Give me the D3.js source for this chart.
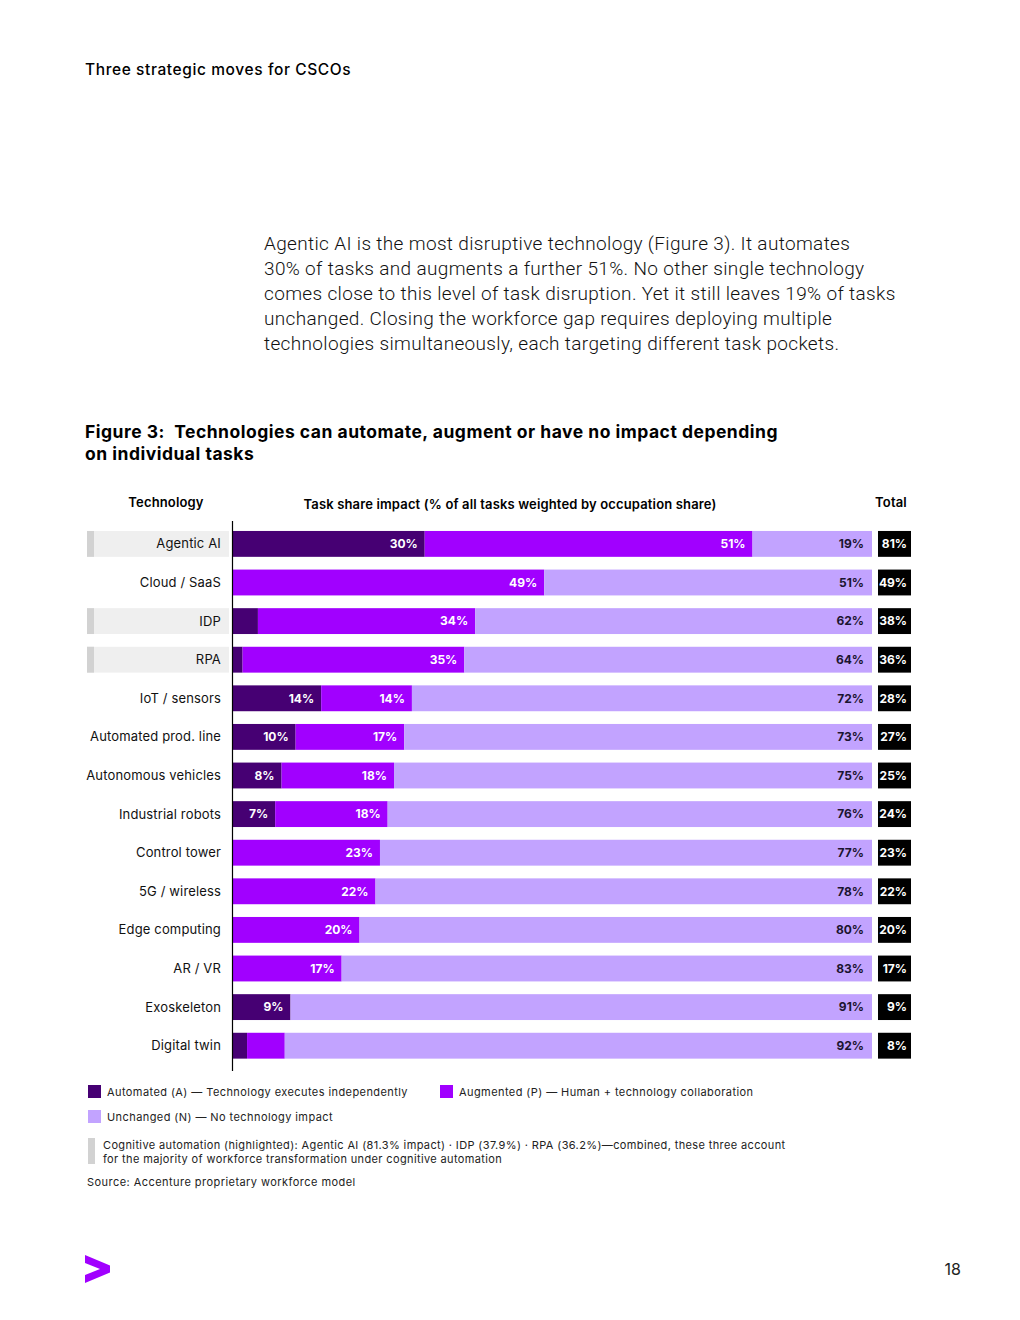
<!DOCTYPE html>
<html><head><meta charset="utf-8">
<script src="https://cdn.jsdelivr.net/npm/d3@7/dist/d3.min.js"></script>
<style>
html,body{margin:0;padding:0;background:#fff;}
svg{display:block;}
text{white-space:pre;}
</style></head>
<body>
<svg id="c" width="1020" height="1320"></svg>
<script>
const technologies = ["Agentic AI","Cloud / SaaS","IDP","RPA","IoT / sensors","Automated prod. line","Autonomous vehicles","Industrial robots","Control tower","5G / wireless","Edge computing","AR / VR","Exoskeleton","Digital twin"];
const automated = [30.0, 0, 3.9, 1.5, 13.8, 9.8, 7.6, 6.6, 0, 0, 0, 0, 9.0, 2.2];
const augmented = [51.3, 48.7, 34.0, 34.7, 14.2, 17.0, 17.6, 17.6, 23.0, 22.3, 19.8, 17.0, 0, 5.9];
const unchanged = [18.7, 51.3, 62.1, 63.8, 72.0, 73.2, 74.8, 75.8, 77.0, 77.7, 80.2, 83.0, 91.0, 91.9];
const highlighted = ["Agentic AI","IDP","RPA"];
const seriesNames = ["Automated (A) — Technology executes independently","Augmented (P) — Human + technology collaboration","Unchanged (N) — No technology impact"];

const COL = {A:"#460073", P:"#a100ff", N:"#c2a3ff"};
const FONT = "Inter, 'Noto Sans', sans-serif";
const svg = d3.select("#c");

// Page header
svg.append("text").attr("x",85).attr("y",75).attr("font-family",FONT).attr("font-size",15.5).attr("font-weight",500).attr("letter-spacing",0.6).attr("fill","#000").text("Three strategic moves for CSCOs");

// Paragraph
const para = ["Agentic AI is the most disruptive technology (Figure 3). It automates","30% of tasks and augments a further 51%. No other single technology","comes close to this level of task disruption. Yet it still leaves 19% of tasks","unchanged. Closing the workforce gap requires deploying multiple","technologies simultaneously, each targeting different task pockets."];
svg.append("g").selectAll("text").data(para).join("text")
  .attr("x",264).attr("y",(d,i)=>250+i*25).attr("font-family","Roboto, sans-serif").attr("font-size",19).attr("font-weight",300).attr("letter-spacing",0.34).attr("fill","#111").text(d=>d);

// Figure title
const titleLines = ["Figure 3:  Technologies can automate, augment or have no impact depending","on individual tasks"];
svg.append("g").selectAll("text").data(titleLines).join("text")
  .attr("x",85).attr("y",(d,i)=>438+i*22).attr("font-family",FONT).attr("font-size",17.5).attr("font-weight",700).attr("letter-spacing",0.5).attr("fill","#000").text(d=>d);

// Column headers
const hdr = (x,y,t)=>svg.append("text").attr("x",x).attr("y",y).attr("text-anchor","middle").attr("font-family",FONT).attr("font-size",13).attr("font-weight",600).attr("letter-spacing",0.15).text(t);
hdr(166,507,"Technology");
hdr(510,509,"Task share impact (% of all tasks weighted by occupation share)");
hdr(891,507,"Total");

// Scales
const x = d3.scaleLinear().domain([0,100]).range([233,872]);
const y = d3.scaleBand().domain(technologies).range([524.6,1065]).paddingInner(0.33).paddingOuter(0.165);
const bh = y.bandwidth();

const rows = technologies.map((t,i)=>({t, A:automated[i], P:augmented[i], N:unchanged[i]}));

// highlighted row backgrounds
const hl = svg.append("g");
rows.filter(r=>highlighted.includes(r.t)).forEach(r=>{
  hl.append("rect").attr("x",87).attr("y",y(r.t)).attr("width",142).attr("height",bh).attr("fill","#efefef");
  hl.append("rect").attr("x",87).attr("y",y(r.t)).attr("width",7).attr("height",bh).attr("fill","#d2d2d2");
});

// category labels
svg.append("g").selectAll("text").data(rows).join("text")
  .attr("x",221).attr("y",r=>y(r.t)+bh/2+4.5).attr("text-anchor","end")
  .attr("font-family",FONT).attr("font-size",13).attr("letter-spacing",0.15).attr("fill","#111").text(r=>r.t);

// stacked bars
const stack = d3.stack().keys(["A","P","N"])(rows);
const bars = svg.append("g");
stack.forEach(layer=>{
  bars.append("g").selectAll("rect").data(layer).join("rect")
    .attr("x",d=>x(d[0])).attr("y",d=>y(d.data.t))
    .attr("width",d=>Math.max(0,x(d[1])-x(d[0]))).attr("height",bh)
    .attr("fill",COL[layer.key]);
  bars.append("g").selectAll("text").data(layer.filter(d=>(d[1]-d[0])>=6.5)).join("text")
    .attr("x",d=>x(d[1])-(layer.key==="N"?8:7)).attr("y",d=>y(d.data.t)+bh/2+4.3)
    .attr("text-anchor","end").attr("font-family",FONT).attr("font-size",12).attr("font-weight",700)
    .attr("fill",layer.key==="N"?"#1b1430":"#fff")
    .text(d=>Math.round(d[1]-d[0])+"%");
});

// axis line
svg.append("line").attr("x1",232.5).attr("x2",232.5).attr("y1",521).attr("y2",1071).attr("stroke","#000").attr("stroke-width",1.2);

// totals
const tot = svg.append("g");
tot.selectAll("rect").data(rows).join("rect")
  .attr("x",878).attr("y",r=>y(r.t)).attr("width",33).attr("height",bh).attr("fill","#000");
tot.selectAll("text").data(rows).join("text")
  .attr("x",907).attr("y",r=>y(r.t)+bh/2+4.3).attr("text-anchor","end")
  .attr("font-family",FONT).attr("font-size",12).attr("font-weight",700).attr("fill","#fff")
  .text(r=>Math.round(r.A+r.P)+"%");

// legend
const LS = 0.42;
const leg = [{k:"A",x:88,y:1085},{k:"P",x:440,y:1085},{k:"N",x:88,y:1110}];
leg.forEach((l,i)=>{
  svg.append("rect").attr("x",l.x).attr("y",l.y).attr("width",13).attr("height",13).attr("fill",COL[l.k]);
  svg.append("text").attr("x",l.x+19).attr("y",l.y+11).attr("font-family",FONT).attr("font-size",11).attr("letter-spacing",LS).attr("fill","#222").text(seriesNames[i]);
});
svg.append("rect").attr("x",88).attr("y",1138).attr("width",7).attr("height",26).attr("fill","#d2d2d2");
["Cognitive automation (highlighted): Agentic AI (81.3% impact) · IDP (37.9%) · RPA (36.2%)—combined, these three account","for the majority of workforce transformation under cognitive automation"].forEach((t,i)=>{
  svg.append("text").attr("x",103).attr("y",1149+i*14).attr("font-family",FONT).attr("font-size",11).attr("letter-spacing",0.37).attr("fill","#222").text(t);
});
svg.append("text").attr("x",87).attr("y",1186).attr("font-family",FONT).attr("font-size",11).attr("letter-spacing",0.45).attr("fill","#222").text("Source: Accenture proprietary workforce model");

// logo
svg.append("path").attr("d","M85,1255 L110,1265.5 L110,1272.5 L85,1283 L85,1275 L100,1269 L85,1263 Z").attr("fill","#a100ff");
// page number
svg.append("text").attr("x",961).attr("y",1275).attr("text-anchor","end").attr("font-family",FONT).attr("font-size",16).attr("fill","#222").text("18");
</script>
</body></html>
